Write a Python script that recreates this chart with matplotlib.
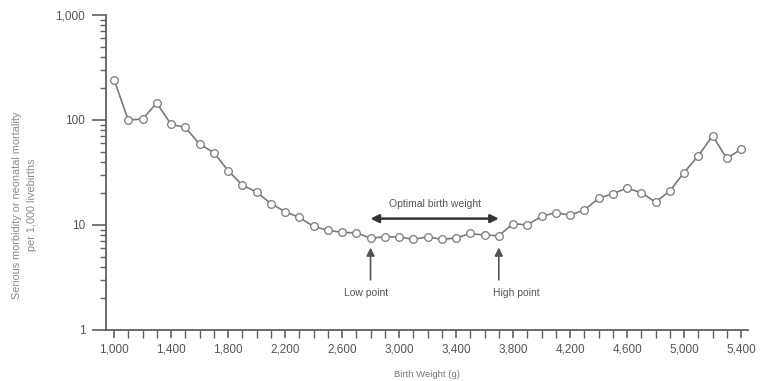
import numpy as np
import matplotlib
matplotlib.use("Agg")
from matplotlib import pyplot as plt
from matplotlib.ticker import FixedLocator, FuncFormatter, NullFormatter, LogLocator

# birth weight (g) and serious morbidity / neonatal mortality per 1,000 livebirths
weights = [1000, 1100, 1200, 1300, 1400, 1500, 1600, 1700, 1800, 1900,
           2000, 2100, 2200, 2300, 2400, 2500, 2600, 2700, 2800, 2900,
           3000, 3100, 3200, 3300, 3400, 3500, 3600, 3700, 3800, 3900,
           4000, 4100, 4200, 4300, 4400, 4500, 4600, 4700, 4800, 4900,
           5000, 5100, 5200, 5300, 5400]
rates = [243, 100, 102, 145, 91, 85, 59, 49, 33, 24,
         20.6, 16, 13.4, 11.8, 9.7, 8.9, 8.5, 8.4, 7.5, 7.7,
         7.7, 7.3, 7.7, 7.3, 7.5, 8.3, 8.0, 7.9, 10.3, 10.0,
         12.1, 13.1, 12.4, 13.9, 17.9, 19.9, 22.4, 20.3, 16.5, 21.1,
         31.6, 45.6, 70.8, 43, 52.8]
x_labels = [1000, 1400, 1800, 2200, 2600, 3000, 3400, 3800, 4200, 4600, 5000, 5400]
y_labels = [1, 10, 100, 1000]

low_point = 2800
high_point = 3700

plt.rcParams['font.family'] = ['Liberation Sans', 'DejaVu Sans']
text_col = '#555555'
axis_col = '#606060'

fig = plt.figure(figsize=(7.6, 3.81), dpi=100)
ax = fig.add_axes([0.1395, 0.134, 0.845, 0.8266])

ax.plot(weights, rates, color='#7a7a7a', lw=1.2, marker='o', ms=5.5,
        mfc='white', mec='#7a7a7a', mew=0.9, zorder=3)

ax.set_yscale('log')
ax.set_ylim(1, 1000)
ax.set_xlim(944, 5450)

for s in ['top', 'right']:
    ax.spines[s].set_visible(False)
for s in ['left', 'bottom']:
    ax.spines[s].set_color(axis_col)
    ax.spines[s].set_linewidth(1.3)

ax.yaxis.set_major_locator(FixedLocator(y_labels))
ax.yaxis.set_major_formatter(FuncFormatter(lambda v, p: f"{int(v):,}"))
ax.yaxis.set_minor_locator(LogLocator(base=10, subs=range(2, 10)))
ax.yaxis.set_minor_formatter(NullFormatter())
ax.tick_params(axis='y', which='major', length=10, width=1.2, color=axis_col,
               labelsize=8.5, labelcolor=text_col, pad=5)
ax.tick_params(axis='y', which='minor', length=4, width=1.0, color=axis_col)

ax.xaxis.set_major_locator(FixedLocator(x_labels))
ax.xaxis.set_major_formatter(FuncFormatter(lambda v, p: f"{int(v):,}"))
ax.xaxis.set_minor_locator(FixedLocator(weights))
ax.tick_params(axis='x', which='major', length=6, width=1.2, color=axis_col,
               labelsize=8.5, labelcolor=text_col, pad=4)
ax.tick_params(axis='x', which='minor', length=6, width=1.0, color=axis_col)

ax.set_xlabel('Birth Weight (g)', fontsize=6.8, color='#777777', labelpad=10)
fig.text(0.032, 0.462, 'Serious morbidity or neonatal mortality\nper 1,000 livebirths',
         rotation=90, ha='center', va='center', fontsize=7.8, color='#8a8a8a',
         linespacing=1.7)

# optimal range annotation
ax.annotate('', xy=(low_point, 11.5), xytext=(high_point, 11.5),
            arrowprops=dict(arrowstyle='<|-|>', color='#333333', lw=1.8,
                            mutation_scale=12, shrinkA=0, shrinkB=0))
ax.text((low_point + high_point) / 2, 15.8, 'Optimal birth weight', ha='center',
        va='center', fontsize=7.5, color=text_col)

for xp, lab, dx in [(low_point, 'Low point', -30), (high_point, 'High point', 120)]:
    ax.annotate('', xy=(xp, 6.1), xytext=(xp, 3.0),
                arrowprops=dict(arrowstyle='-|>', color='#555555', lw=1.2,
                                mutation_scale=12, shrinkA=0, shrinkB=0))
    ax.text(xp + dx, 2.25, lab, ha='center', va='center', fontsize=7.5,
            color=text_col)

fig.savefig('out.png', dpi=100)
